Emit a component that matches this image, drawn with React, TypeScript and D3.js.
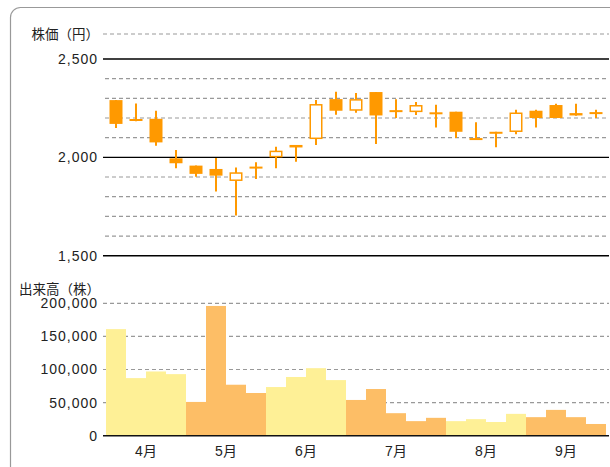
import React from "react";
import * as d3 from "d3";

// ---- data ----
const months = [4, 4, 4, 4, 5, 5, 5, 5, 6, 6, 6, 6, 7, 7, 7, 7, 7, 8, 8, 8, 8, 9, 9, 9, 9];
const opens = [2291, 2195, 2196, 1995, 1958, 1941, 1880, 1953, 2000, 2053, 2093, 2296, 2237, 2332, 2240, 2230, 2229, 2232, 2098, 2130, 2129, 2237, 2266, 2225, 2230];
const highs = [2291, 2274, 2237, 2038, 1958, 1997, 1948, 1975, 2054, 2063, 2291, 2333, 2327, 2332, 2296, 2281, 2267, 2232, 2178, 2130, 2242, 2242, 2273, 2273, 2242];
const lows = [2149, 2183, 2059, 1944, 1902, 1826, 1704, 1890, 1944, 1978, 2063, 2217, 2227, 2068, 2200, 2215, 2152, 2098, 2095, 2051, 2117, 2152, 2200, 2212, 2200];
const closes = [2170, 2190, 2076, 1970, 1916, 1907, 1924, 1949, 2034, 2063, 2271, 2237, 2296, 2213, 2235, 2266, 2225, 2130, 2095, 2124, 2228, 2200, 2200, 2213, 2226];
const volumes = [161000, 87000, 97000, 93000, 51000, 196000, 77000, 64500, 73500, 88700, 102000, 84000, 54000, 70500, 34000, 22000, 27000, 22000, 25000, 20700, 33000, 28000, 39000, 28000, 17700];
const priceTicks = [1500, 2000, 2500];
const priceGrid = [1600, 1700, 1800, 1900, 2100, 2200, 2300, 2400];
const volTicks = [0, 50000, 100000, 150000, 200000];
const monthLabels = [4, 5, 6, 7, 8, 9];

const W = 610;
const H = 467;
const plotLeft = 103;
const plotRight = 609;
const priceTop = 34;

const ORANGE = "#FF9900";
const YELLOW_BAR = "#FEF096";
const ORANGE_BAR = "#FDBE66";
const GRID = "#999";
const TEXT = "#222";
const numFont = "'Liberation Sans', Arial, sans-serif";
const cjkFont = "'Liberation Sans', Arial, 'Noto Sans CJK JP', sans-serif";

export default function App() {
  const idx = months.map((_, i) => i);
  const x = d3.scaleBand<number>().domain(idx).range([106, 606]).padding(0);
  const yP = d3.scaleLinear().domain([1500, 2500]).range([255.7, 59]);
  const yV = d3.scaleLinear().domain([0, 200000]).range([435.7, 303.3]);
  const fmt = d3.format(",");
  const bw = x.bandwidth();
  const bodyW = 13;

  const monthCenters = monthLabels.map((m) => {
    const ii = idx.filter((i) => months[i] === m);
    return { m, cx: d3.mean(ii, (i) => (x(i) as number) + bw / 2) as number };
  });

  return (
    <svg
      width={W}
      height={H}
      style={{ position: "absolute", left: 0, top: 0, display: "block", background: "#fff" }}
    >
      <rect x={10.5} y={7.5} width={700} height={600} rx={10} ry={10} fill="#fff" stroke="#999" strokeWidth={1.2} />

      {/* price chart */}
      <line x1={plotLeft} x2={plotRight} y1={priceTop} y2={priceTop} stroke={GRID} strokeWidth={1.2} strokeDasharray="4,3" />
      {priceGrid.map((p) => (
        <line key={p} x1={plotLeft + 2} x2={plotRight} y1={yP(p)} y2={yP(p)} stroke={GRID} strokeWidth={1.2} strokeDasharray="4,3" />
      ))}
      {priceTicks.map((p) => (
        <g key={p}>
          <line x1={plotLeft} x2={plotRight} y1={yP(p)} y2={yP(p)} stroke="#000" strokeWidth={1.4} />
          <text x={98} y={yP(p)} dy="0.35em" textAnchor="end" fontSize={14} letterSpacing={1} fontFamily={numFont} fill={TEXT}>
            {fmt(p)}
          </text>
        </g>
      ))}
      <text x={99} y={priceTop} dy="0.35em" textAnchor="end" fontSize={13.5} fontFamily={cjkFont} fill={TEXT}>
        株価（円）
      </text>

      {idx.map((i) => {
        const cx = (x(i) as number) + bw / 2;
        const o = opens[i];
        const c = closes[i];
        const up = c > o;
        const top = yP(Math.max(o, c));
        const bot = yP(Math.min(o, c));
        const h = Math.max(bot - top, 2);
        return (
          <g key={i}>
            <line x1={cx} x2={cx} y1={yP(highs[i])} y2={yP(lows[i])} stroke={ORANGE} strokeWidth={2} />
            {up ? (
              <rect x={cx - bodyW / 2 + 0.75} y={top + 0.75} width={bodyW - 1.5} height={Math.max(h - 1.5, 1)} fill="#fff" stroke={ORANGE} strokeWidth={1.5} />
            ) : (
              <rect x={cx - bodyW / 2} y={top} width={bodyW} height={h} fill={ORANGE} />
            )}
          </g>
        );
      })}

      {/* volume chart */}
      {volTicks.filter((v) => v > 0).map((v) => (
        <line key={v} x1={plotLeft} x2={plotRight} y1={yV(v)} y2={yV(v)} stroke={GRID} strokeWidth={1.2} strokeDasharray="4,3" />
      ))}
      {idx.map((i) => (
        <rect
          key={i}
          x={x(i) as number}
          y={yV(volumes[i])}
          width={bw}
          height={yV(0) - yV(volumes[i])}
          fill={months[i] % 2 === 0 ? YELLOW_BAR : ORANGE_BAR}
        />
      ))}
      <line x1={plotLeft} x2={plotRight} y1={yV(0)} y2={yV(0)} stroke="#111" strokeWidth={1.6} />
      {volTicks.map((v) => (
        <text key={v} x={98} y={yV(v)} dy="0.35em" textAnchor="end" fontSize={14} letterSpacing={1} fontFamily={numFont} fill={TEXT}>
          {fmt(v)}
        </text>
      ))}
      <text x={100} y={289} dy="0.35em" textAnchor="end" fontSize={13.5} fontFamily={cjkFont} fill={TEXT}>
        出来高（株）
      </text>

      {monthCenters.map(({ m, cx }) => (
        <text key={m} x={cx} y={451} dy="0.35em" textAnchor="middle" fontSize={14} fontFamily={cjkFont} fill={TEXT}>
          {m}月
        </text>
      ))}
    </svg>
  );
}
